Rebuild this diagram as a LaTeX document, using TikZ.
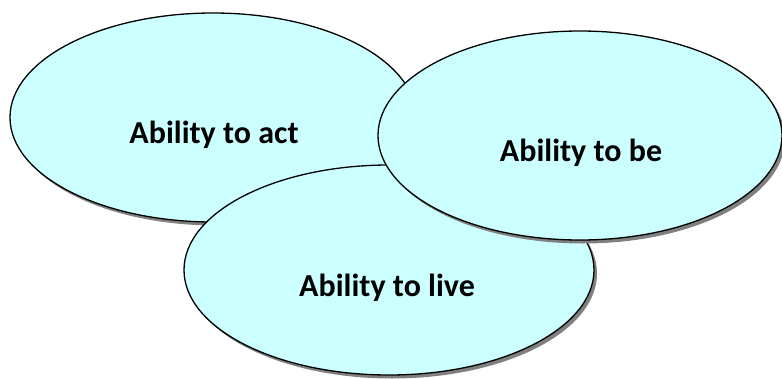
\documentclass[tikz,border=0pt]{standalone}
\usepackage{fontspec}
\setmainfont{Carlito}
\usetikzlibrary{shapes.geometric,shadows}
\definecolor{bubblefill}{HTML}{CCFFFF}
\definecolor{shadowgray}{HTML}{808080}
\tikzset{
  bubble/.style={ellipse, draw=black, line width=1.3pt, fill=bubblefill, inner sep=0pt,
    drop shadow={shadow xshift=3pt, shadow yshift=-3.5pt, fill=shadowgray, opacity=1}},
  bubbletext/.style={font=\bfseries\fontsize{32}{38}\selectfont, text=black, inner sep=0pt}
}
\begin{document}
\begin{tikzpicture}[x=1pt,y=-1pt]
\useasboundingbox (0,0) rectangle (782,378);
\node[bubble, minimum width=406pt, minimum height=209pt] (act) at (213,117.5) {};
\node[bubbletext] (tact) at (214,135) {Ability to act};
\node[bubble, minimum width=410pt, minimum height=210pt] (live) at (389,270) {};
\node[bubbletext] (tlive) at (387,288) {Ability to live};
\node[bubble, minimum width=404pt, minimum height=209pt] (be) at (580,135.5) {};
\node[bubbletext] (tbe) at (581,153) {Ability to be};
\end{tikzpicture}
\end{document}
